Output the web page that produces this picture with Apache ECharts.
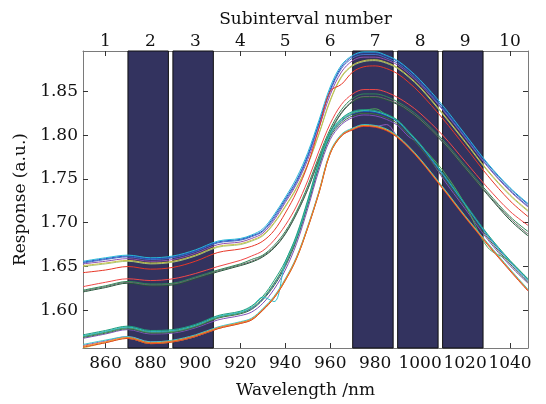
<!DOCTYPE html>
<html><head><meta charset="utf-8">
<script src="https://cdn.jsdelivr.net/npm/echarts@6/dist/echarts.min.js"></script>
<style>html,body{margin:0;padding:0;background:#fff}#c{width:546px;height:404px}</style>
</head><body><div id="c"></div>
<script>
const wavelengths = [850,860,870,880,890,900,910,920,925,930,935,940,945,950,955,960,965,970,975,980,985,990,995,1000,1010,1020,1030,1040,1048];
const wlTicks = [860,880,900,920,940,960,980,1000,1020,1040];
const subintervalLabels = ['1','2','3','4','5','6','7','8','9','10'];
const responseTicks = [1.60,1.65,1.70,1.75,1.80,1.85];
const selectedBands = [[870,888],[890,908],[970,988],[990,1008],[1010,1028]];

const sA1 = [1.655,1.659,1.662,1.659,1.661,1.668,1.678,1.681,1.685,1.691,1.707,1.727,1.748,1.777,1.814,1.852,1.878,1.890,1.894,1.894,1.890,1.884,1.874,1.862,1.832,1.800,1.767,1.739,1.721];
const sA2 = [1.656,1.660,1.663,1.660,1.662,1.669,1.679,1.682,1.686,1.693,1.709,1.729,1.751,1.780,1.817,1.855,1.880,1.891,1.895,1.895,1.891,1.885,1.875,1.863,1.834,1.801,1.768,1.740,1.722];
const sA3 = [1.654,1.658,1.661,1.658,1.660,1.667,1.677,1.680,1.684,1.690,1.705,1.725,1.746,1.775,1.812,1.850,1.876,1.888,1.892,1.892,1.888,1.882,1.872,1.860,1.830,1.798,1.765,1.737,1.719];
const sA4 = [1.653,1.656,1.659,1.656,1.658,1.665,1.675,1.678,1.682,1.688,1.703,1.723,1.744,1.772,1.808,1.846,1.872,1.885,1.889,1.889,1.886,1.880,1.870,1.858,1.829,1.797,1.764,1.736,1.718];
const sA5 = [1.651,1.654,1.657,1.654,1.656,1.663,1.673,1.676,1.680,1.686,1.700,1.719,1.740,1.767,1.802,1.840,1.867,1.880,1.885,1.886,1.883,1.877,1.867,1.855,1.825,1.793,1.760,1.732,1.714];
const sA6 = [1.650,1.653,1.656,1.653,1.655,1.662,1.672,1.675,1.679,1.685,1.699,1.718,1.739,1.766,1.801,1.839,1.866,1.879,1.884,1.885,1.882,1.876,1.866,1.854,1.824,1.792,1.759,1.731,1.713];
const sB1 = [1.643,1.646,1.650,1.647,1.649,1.656,1.666,1.670,1.673,1.679,1.691,1.711,1.735,1.766,1.808,1.850,1.858,1.872,1.878,1.879,1.876,1.870,1.860,1.848,1.819,1.787,1.754,1.725,1.707];
const sC1 = [1.627,1.632,1.636,1.634,1.636,1.642,1.650,1.657,1.662,1.668,1.680,1.697,1.719,1.748,1.782,1.813,1.835,1.847,1.852,1.852,1.849,1.843,1.835,1.825,1.800,1.770,1.740,1.713,1.697];
const sC2 = [1.623,1.628,1.633,1.630,1.631,1.638,1.646,1.653,1.658,1.663,1.674,1.690,1.713,1.742,1.776,1.807,1.829,1.842,1.847,1.847,1.844,1.838,1.830,1.820,1.795,1.765,1.735,1.707,1.690];
const sC3 = [1.622,1.627,1.632,1.629,1.630,1.637,1.645,1.652,1.656,1.662,1.672,1.688,1.711,1.739,1.773,1.804,1.826,1.839,1.844,1.844,1.841,1.836,1.828,1.818,1.793,1.763,1.733,1.705,1.687];
const sC4 = [1.621,1.626,1.631,1.628,1.629,1.636,1.644,1.651,1.655,1.661,1.671,1.687,1.710,1.738,1.772,1.803,1.825,1.838,1.843,1.843,1.840,1.835,1.827,1.817,1.792,1.762,1.732,1.703,1.685];
const sD1 = [1.570,1.575,1.580,1.575,1.576,1.582,1.592,1.597,1.602,1.613,1.630,1.652,1.682,1.722,1.766,1.800,1.816,1.824,1.827,1.826,1.822,1.815,1.802,1.788,1.755,1.720,1.685,1.655,1.634];
const sD2 = [1.572,1.577,1.582,1.577,1.578,1.584,1.594,1.599,1.605,1.616,1.634,1.656,1.686,1.726,1.770,1.804,1.819,1.827,1.829,1.828,1.824,1.817,1.804,1.790,1.757,1.722,1.687,1.657,1.636];
const sD3 = [1.571,1.576,1.581,1.576,1.577,1.583,1.593,1.598,1.604,1.615,1.610,1.655,1.684,1.724,1.768,1.802,1.818,1.826,1.828,1.827,1.823,1.816,1.803,1.789,1.756,1.721,1.686,1.656,1.635];
const sD4 = [1.569,1.574,1.579,1.574,1.575,1.581,1.591,1.596,1.601,1.612,1.628,1.650,1.680,1.720,1.764,1.798,1.814,1.822,1.825,1.824,1.820,1.813,1.800,1.786,1.753,1.718,1.683,1.653,1.632];
const sD5 = [1.568,1.573,1.578,1.573,1.574,1.580,1.589,1.594,1.598,1.608,1.624,1.646,1.676,1.716,1.760,1.795,1.812,1.820,1.823,1.822,1.818,1.811,1.798,1.790,1.751,1.716,1.681,1.651,1.631];
const sD6 = [1.570,1.575,1.580,1.575,1.576,1.582,1.592,1.597,1.603,1.614,1.631,1.653,1.683,1.723,1.767,1.801,1.817,1.825,1.828,1.830,1.823,1.816,1.803,1.789,1.760,1.721,1.672,1.656,1.635];
const sE1 = [1.559,1.564,1.569,1.563,1.565,1.571,1.580,1.586,1.590,1.601,1.615,1.635,1.660,1.695,1.735,1.780,1.800,1.807,1.811,1.810,1.806,1.798,1.786,1.772,1.740,1.707,1.676,1.646,1.623];
const sE2 = [1.558,1.563,1.568,1.562,1.564,1.570,1.579,1.585,1.589,1.600,1.614,1.634,1.659,1.694,1.734,1.779,1.799,1.806,1.810,1.809,1.805,1.797,1.785,1.771,1.739,1.706,1.675,1.645,1.622];
const sE3 = [1.557,1.563,1.568,1.562,1.564,1.570,1.579,1.585,1.589,1.600,1.614,1.634,1.659,1.694,1.734,1.779,1.799,1.807,1.811,1.810,1.806,1.798,1.786,1.772,1.740,1.707,1.676,1.646,1.623];
const sE4 = [1.561,1.566,1.570,1.564,1.566,1.572,1.581,1.587,1.591,1.602,1.616,1.636,1.661,1.696,1.736,1.781,1.801,1.808,1.812,1.811,1.807,1.799,1.787,1.773,1.741,1.708,1.677,1.647,1.624];
const sE5 = [1.560,1.565,1.570,1.564,1.565,1.571,1.580,1.586,1.590,1.601,1.615,1.635,1.660,1.695,1.735,1.780,1.800,1.807,1.811,1.810,1.812,1.798,1.786,1.772,1.740,1.707,1.676,1.646,1.623];

const curves = [
  [sA6,'#a8c878'],[sA5,'#c8c048'],[sA4,'#9050b0'],[sA3,'#4070c8'],[sA1,'#2850c0'],[sA2,'#28b8d8'],
  [sB1,'#e83828'],
  [sC4,'#205838'],[sC3,'#686868'],[sC2,'#308858'],[sC1,'#f04848'],
  [sD5,'#8050b8'],[sD4,'#3c7040'],[sD1,'#2050c0'],[sD6,'#50a858'],[sD3,'#30c0c8'],[sD2,'#20a080'],
  [sE3,'#d0c838'],[sE5,'#9058c0'],[sE4,'#40c8c8'],[sE2,'#e03828'],[sE1,'#f08a20']
];

const FONT = 'DejaVu Serif';
const txt = {color:'#111', fontFamily: FONT, fontSize: 17};
const axisLineStyle = {color:'#7a7a7a', width:1};

const series = [{
  type:'line', data:[], z:1, silent:true,
  markArea:{silent:true, itemStyle:{color:'#33335f', borderColor:'#111', borderWidth:1},
    data: selectedBands.map(b=>[{xAxis:b[0]},{xAxis:b[1]}])}
}];
curves.forEach(c=>{
  series.push({type:'line', z:3, showSymbol:false, smooth:0.35, silent:true,
    lineStyle:{color:c[1], width:1}, data: wavelengths.map((w,i)=>[w,c[0][i]])});
});

const chart = echarts.init(document.getElementById('c'), null, {renderer:'canvas'});
chart.setOption({
  animation:false,
  backgroundColor:'#fff',
  grid:{left:83, right:18, top:51, bottom:52},
  xAxis:[{
    type:'value', position:'bottom', min:850, max:1048,
    axisLine:{show:true, lineStyle:axisLineStyle, onZero:false},
    axisTick:{show:true, inside:true, length:5, lineStyle:{color:'#333'}, customValues:wlTicks},
    axisLabel:{...txt, margin:7, customValues:wlTicks, hideOverlap:false, showMaxLabel:true,
      formatter:(v)=>String(Math.round(v))},
    splitLine:{show:false},
    name:'Wavelength /nm', nameLocation:'middle', nameGap:34, nameTextStyle:{...txt}
  },{
    type:'value', position:'top', min:850, max:1048,
    axisLine:{show:true, lineStyle:axisLineStyle, onZero:false},
    axisTick:{show:true, inside:true, length:5, lineStyle:{color:'#333'}, customValues:wlTicks},
    axisLabel:{...txt, margin:1, customValues:wlTicks, hideOverlap:false, showMaxLabel:true,
      formatter:(v)=>{const i=wlTicks.indexOf(Math.round(v)); return i>=0?subintervalLabels[i]:'';}},
    splitLine:{show:false},
    name:'Subinterval number', nameLocation:'middle', nameGap:22, nameTextStyle:{...txt}
  }],
  yAxis:[{
    type:'value', position:'left', min:1.557, max:1.896,
    axisLine:{show:true, lineStyle:axisLineStyle, onZero:false},
    axisTick:{show:true, inside:true, length:5, lineStyle:{color:'#333'}, customValues:responseTicks},
    axisLabel:{...txt, margin:5, customValues:responseTicks, formatter:(v)=>v.toFixed(2)},
    splitLine:{show:false},
    name:'Response (a.u.)', nameLocation:'middle', nameGap:50, nameRotate:90, nameTextStyle:{...txt}
  },{
    type:'value', position:'right', min:1.557, max:1.896,
    axisLine:{show:true, lineStyle:axisLineStyle, onZero:false},
    axisTick:{show:true, inside:true, length:5, lineStyle:{color:'#333'}, customValues:responseTicks},
    axisLabel:{show:false},
    splitLine:{show:false}
  }],
  series: series
});
</script></body></html>
